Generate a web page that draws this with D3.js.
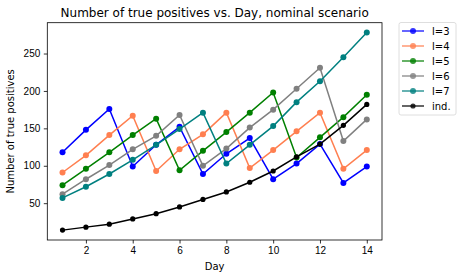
<!DOCTYPE html>
<html>
<head>
<meta charset="utf-8">
<script src="https://cdn.jsdelivr.net/npm/d3@7"></script>
<style>
    body { margin: 0; background: #fff; }
    svg { font-family: "DejaVu Sans", sans-serif; }
    .axis path, .axis line { stroke: #000; stroke-width: 0.8; }
    .axis text { font-size: 10px; fill: #000; }
</style>
</head>
<body>
<div id="chart"></div>
<script>
var days = [1, 2, 3, 4, 5, 6, 7, 8, 9, 10, 11, 12, 13, 14];
var l3 = [118, 148, 176, 99, 128, 152, 89, 116, 137, 82, 103, 129, 77, 99];
var l4 = [91, 114, 141, 167, 93, 122, 142, 171, 97, 121, 146, 171, 96, 121];
var l5 = [74, 96, 118, 141, 163, 94, 120, 145, 171, 198, 111, 138, 165, 195];
var l6 = [62, 82, 101, 122, 140, 168, 100, 123, 151, 175, 203, 231, 133, 162];
var l7 = [57, 72, 89, 108, 128, 149, 171, 103, 128, 153, 185, 213, 245, 278];
var ind = [14, 18, 22, 29, 36, 45, 55, 65, 78, 93, 112, 129, 154, 182];
var yTicks = [50, 100, 150, 200, 250];
var xTicks = [2, 4, 6, 8, 10, 12, 14];

var series = [
    { label: 'l=3', values: l3, color: 'blue', r: 3 },
    { label: 'l=4', values: l4, color: 'coral', r: 3 },
    { label: 'l=5', values: l5, color: 'green', r: 3 },
    { label: 'l=6', values: l6, color: 'grey', r: 3 },
    { label: 'l=7', values: l7, color: 'teal', r: 3 },
    { label: 'ind.', values: ind, color: 'black', r: 2.6 }
];

var width = 460, height = 278;
var margin = { top: 22.7, right: 78, bottom: 38, left: 47.3 };
var plotW = width - margin.left - margin.right,
    plotH = height - margin.top - margin.bottom;

var svg = d3.select('#chart').append('svg')
    .attr('width', width)
    .attr('height', height);
var g = svg.append('g')
    .attr('transform', 'translate(' + margin.left + ',' + margin.top + ')');

// matplotlib style 5% padding
var allVals = d3.merge(series.map(function(s) { return s.values; }));
var yMin = d3.min(allVals), yMax = d3.max(allVals);
var yPad = (yMax - yMin) * 0.05;
var xPad = (d3.max(days) - d3.min(days)) * 0.05;

var x = d3.scaleLinear()
    .domain([d3.min(days) - xPad, d3.max(days) + xPad])
    .range([0, plotW]);
var y = d3.scaleLinear()
    .domain([yMin - yPad, yMax + yPad])
    .range([plotH, 0]);

g.append('g')
    .attr('class', 'axis')
    .attr('transform', 'translate(0,' + plotH + ')')
    .call(d3.axisBottom(x).tickValues(xTicks).tickSize(3.5).tickPadding(3.5).tickFormat(d3.format('d')));
g.append('g')
    .attr('class', 'axis')
    .call(d3.axisLeft(y).tickValues(yTicks).tickSize(3.5).tickPadding(3.5).tickFormat(d3.format('d')));
g.selectAll('.axis .domain').remove();

// frame
g.append('rect')
    .attr('width', plotW)
    .attr('height', plotH)
    .attr('fill', 'none')
    .attr('stroke', '#000')
    .attr('stroke-width', 0.8);

var line = d3.line()
    .x(function(d, i) { return x(days[i]); })
    .y(function(d) { return y(d); });

series.forEach(function(s) {
    g.append('path')
        .datum(s.values)
        .attr('d', line)
        .attr('fill', 'none')
        .attr('stroke', s.color)
        .attr('stroke-width', 1.5);
    g.selectAll(null)
        .data(s.values)
        .enter()
        .append('circle')
        .attr('cx', function(d, i) { return x(days[i]); })
        .attr('cy', function(d) { return y(d); })
        .attr('r', s.r)
        .attr('fill', s.color);
});

// title
svg.append('text')
    .attr('x', margin.left + plotW / 2)
    .attr('y', 17)
    .attr('text-anchor', 'middle')
    .style('font-size', '12px')
    .text('Number of true positives vs. Day, nominal scenario');

// axis labels
svg.append('text')
    .attr('x', margin.left + plotW / 2)
    .attr('y', 270)
    .attr('text-anchor', 'middle')
    .style('font-size', '10px')
    .text('Day');
svg.append('text')
    .attr('transform', 'translate(14,' + (margin.top + plotH / 2) + ') rotate(-90)')
    .attr('text-anchor', 'middle')
    .style('font-size', '10px')
    .text('Number of true positives');

// legend
var legend = svg.append('g')
    .attr('transform', 'translate(399,22.5)');
legend.append('rect')
    .attr('width', 57)
    .attr('height', 92.5)
    .attr('rx', 2)
    .attr('fill', '#fff')
    .attr('stroke', '#d6d6d6')
    .attr('stroke-width', 0.8);
var items = legend.selectAll('.item')
    .data(series)
    .enter()
    .append('g')
    .attr('class', 'item')
    .attr('transform', function(d, i) { return 'translate(0,' + (8.5 + i * 15) + ')'; });
items.append('line')
    .attr('x1', 3)
    .attr('x2', 25)
    .attr('stroke', function(d) { return d.color; })
    .attr('stroke-width', 1.5)
    .attr('opacity', 0.8);
items.append('circle')
    .attr('cx', 14)
    .attr('r', function(d) { return d.r; })
    .attr('fill', function(d) { return d.color; })
    .attr('opacity', 0.8);
items.append('text')
    .attr('x', 33)
    .attr('y', 3.6)
    .style('font-size', '10px')
    .text(function(d) { return d.label; });
</script>
</body>
</html>
